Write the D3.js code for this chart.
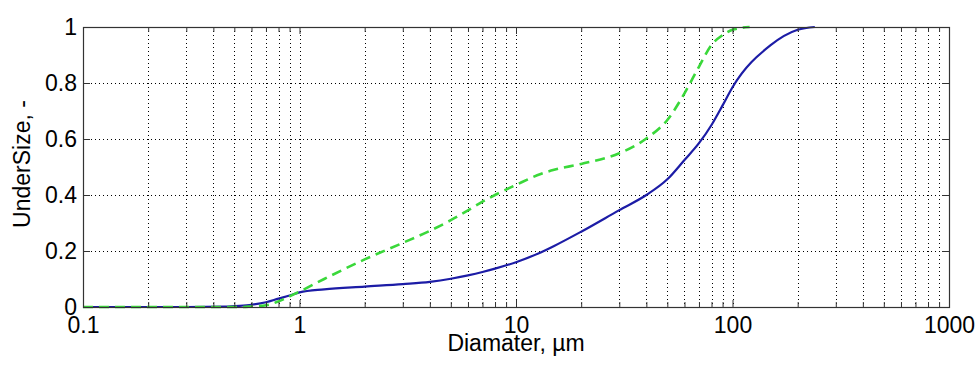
<!DOCTYPE html>
<html>
<head>
<meta charset="utf-8">
<script src="https://cdn.jsdelivr.net/npm/d3@7"></script>
<style>
  body { margin: 0; background: #fff; }
  svg text { font-family: "Liberation Sans", Arial, sans-serif; fill: #000; }
</style>
</head>
<body>
<div id="chart"></div>
<script>
// sample 1 (solid blue)
const blueDiam = [0.1, 0.3, 0.45, 0.53, 0.6, 0.7, 0.8, 0.9, 1, 1.3, 2, 3, 4, 5, 6, 7, 8, 10, 13, 15, 20, 30, 40, 50, 60, 70, 80, 90, 100, 150, 200, 240];
const blueUnder = [0, 0, 0.001, 0.004, 0.008, 0.017, 0.03, 0.041, 0.052, 0.063, 0.073, 0.082, 0.09, 0.101, 0.113, 0.125, 0.137, 0.16, 0.195, 0.218, 0.269, 0.346, 0.40, 0.456, 0.525, 0.585, 0.65, 0.72, 0.785, 0.935, 0.99, 1];

// sample 2 (dashed green)
const greenDiam = [0.1, 0.55, 0.6, 0.7, 0.8, 0.9, 1, 1.3, 2, 3, 4, 5, 6, 7, 8, 10, 13, 15, 20, 30, 40, 50, 60, 70, 80, 90, 100, 120];
const greenUnder = [0, 0, 0.002, 0.006, 0.02, 0.038, 0.055, 0.1, 0.17, 0.229, 0.272, 0.31, 0.345, 0.376, 0.40, 0.436, 0.475, 0.49, 0.511, 0.549, 0.602, 0.668, 0.763, 0.858, 0.936, 0.971, 0.99, 1];

const xMajor = [0.1, 1, 10, 100, 1000];
const xMajorLabels = ['0.1', '1', '10', '100', '1000'];
const yMajor = [0, 0.2, 0.4, 0.6, 0.8, 1];
const yMajorLabels = ['0', '0.2', '0.4', '0.6', '0.8', '1'];

const W = 978, H = 365;
const pLeft = 83, pRight = 949, pTop = 27, pBottom = 307;
const fontPx = '23px';

const svg = d3.select('#chart').append('svg')
  .attr('width', W)
  .attr('height', H);

const x = d3.scaleLog().domain([0.1, 1000]).range([pLeft, pRight]);
const y = d3.scaleLinear().domain([0, 1]).range([pBottom, pTop]);

// minor positions 2..9 in each decade
const xMinor = [];
for (let d = 0.1; d < 1000; d *= 10) {
  for (let k = 2; k <= 9; k++) xMinor.push(+(d * k).toPrecision(3));
}

// grid
const grid = svg.append('g').attr('class', 'grid');
grid.selectAll('.vg')
  .data(xMajor.slice(1, -1).concat(xMinor))
  .enter().append('line')
  .attr('x1', d => Math.round(x(d)) + 0.5)
  .attr('x2', d => Math.round(x(d)) + 0.5)
  .attr('y1', pTop).attr('y2', pBottom)
  .attr('stroke', '#000').attr('stroke-width', 1)
  .attr('stroke-dasharray', '1,3');
grid.selectAll('.hg')
  .data(yMajor.slice(1, -1))
  .enter().append('line')
  .attr('x1', pLeft).attr('x2', pRight)
  .attr('y1', d => Math.round(y(d)) + 0.5)
  .attr('y2', d => Math.round(y(d)) + 0.5)
  .attr('stroke', '#000').attr('stroke-width', 1)
  .attr('stroke-dasharray', '1,3');

// lines
const lineGen = d3.line()
  .x(d => x(d[0]))
  .y(d => y(d[1]))
  .curve(d3.curveMonotoneX);

svg.append('path')
  .datum(d3.zip(blueDiam, blueUnder))
  .attr('d', lineGen)
  .attr('fill', 'none')
  .attr('stroke', '#1c1ca6')
  .attr('stroke-width', 2.2);

svg.append('path')
  .datum(d3.zip(greenDiam, greenUnder))
  .attr('d', lineGen)
  .attr('fill', 'none')
  .attr('stroke', '#3ad83a')
  .attr('stroke-width', 2.6)
  .attr('stroke-dasharray', '10,6');

// axes with inward ticks on all four sides
function styleAxis(g) {
  g.select('.domain').remove();
  g.selectAll('line').attr('stroke', '#333');
  g.selectAll('text').style('font-size', fontPx);
}

svg.append('g')
  .attr('transform', `translate(0,${pBottom})`)
  .call(d3.axisBottom(x).tickValues(xMajor).tickSize(-7).tickPadding(10)
    .tickFormat((d, i) => xMajorLabels[i]))
  .call(styleAxis);
svg.append('g')
  .attr('transform', `translate(0,${pBottom})`)
  .call(d3.axisBottom(x).tickValues(xMinor).tickSize(-5).tickFormat(''))
  .call(styleAxis);
svg.append('g')
  .attr('transform', `translate(0,${pTop})`)
  .call(d3.axisTop(x).tickValues(xMajor).tickSize(-7).tickFormat(''))
  .call(styleAxis);
svg.append('g')
  .attr('transform', `translate(0,${pTop})`)
  .call(d3.axisTop(x).tickValues(xMinor).tickSize(-5).tickFormat(''))
  .call(styleAxis);
svg.append('g')
  .attr('transform', `translate(${pLeft},0)`)
  .call(d3.axisLeft(y).tickValues(yMajor).tickSize(-7).tickPadding(6)
    .tickFormat((d, i) => yMajorLabels[i]))
  .call(styleAxis);
svg.append('g')
  .attr('transform', `translate(${pRight},0)`)
  .call(d3.axisRight(y).tickValues(yMajor).tickSize(-7).tickFormat(''))
  .call(styleAxis);

// box
svg.append('rect')
  .attr('x', pLeft + 0.5).attr('y', pTop + 0.5)
  .attr('width', pRight - pLeft).attr('height', pBottom - pTop)
  .attr('fill', 'none')
  .attr('stroke', '#333')
  .attr('stroke-width', 1.2);

// axis titles
svg.append('text')
  .attr('x', (pLeft + pRight) / 2)
  .attr('y', 351)
  .attr('text-anchor', 'middle')
  .style('font-size', fontPx)
  .text('Diamater, \u00b5m');

svg.append('text')
  .attr('transform', `translate(30,${(pTop + pBottom) / 2 - 3}) rotate(-90)`)
  .attr('text-anchor', 'middle')
  .style('font-size', fontPx)
  .text('UnderSize, -');
</script>
</body>
</html>
